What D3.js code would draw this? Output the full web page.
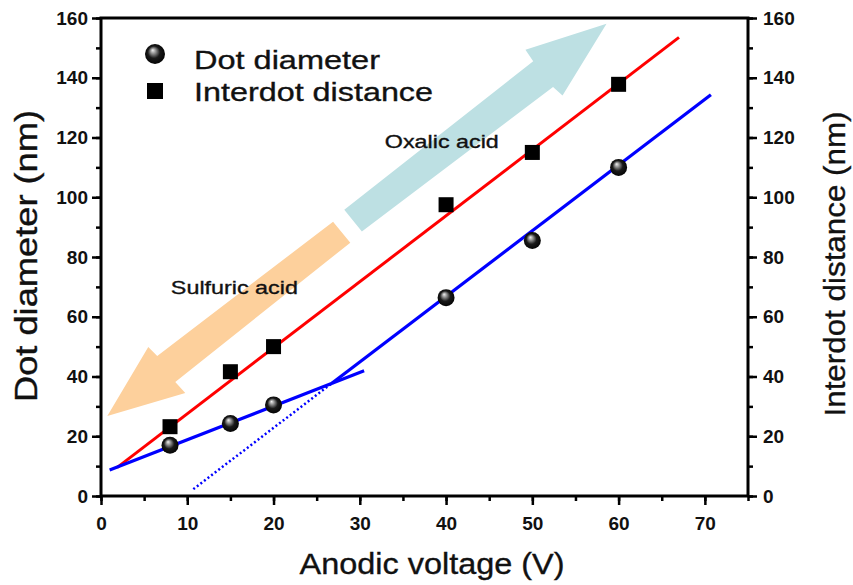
<!DOCTYPE html>
<html>
<head>
<meta charset="utf-8">
<script src="https://cdn.jsdelivr.net/npm/d3@7"></script>
<style>
  body { margin: 0; background: #fff; }
  text { font-family: "Liberation Sans", Arial, sans-serif; }
</style>
</head>
<body>
<svg id="chart"></svg>
<script>
// measured points
const voltage = [8, 15, 20, 40, 50, 60];
const dotDiameter = [17, 24.3, 30.5, 66.4, 85.5, 110];
const interdotDistance = [23.2, 41.6, 50, 97.5, 115, 137.8];

// fitted lines (voltage, nm) end points
const interdotFitV = [1.85, 67];
const interdotFitD = [9.5, 153.5];
const sulfuricFitV = [1, 30.5];
const sulfuricFitD = [8.7, 41.9];
const oxalicFitV = [26.8, 70.7];
const oxalicFitD = [37.8, 134.3];
const extrapFitV = [10.7, 26.8];
const extrapFitD = [2.3, 37.8];

// annotation arrows, outline in data units
const sulfuricArrowV = [26.9, 28.9, 8.61, 9.77, 0.73, 5.48, 6.52];
const sulfuricArrowD = [91.8, 84.8, 38.2, 34.5, 26.8, 49.9, 46.9];
const oxalicArrowV = [28.2, 50.1, 49.2, 58.6, 53.5, 52.4, 30.24];
const oxalicArrowD = [95.8, 145.5, 149.4, 158.1, 134.1, 136.9, 88.5];

const xTicks = [0, 10, 20, 30, 40, 50, 60, 70];
const yTicks = [0, 20, 40, 60, 80, 100, 120, 140, 160];

const W = 853, H = 585;
const margin = { top: 18, right: 105, bottom: 89, left: 101 };
const width = W - margin.left - margin.right;
const height = H - margin.top - margin.bottom;

const svg = d3.select('#chart').attr('width', W).attr('height', H);

const defs = svg.append('defs');
const grad = defs.append('radialGradient').attr('id', 'ball')
    .attr('cx', '0.5').attr('cy', '0.5').attr('r', '0.55')
    .attr('fx', '0.38').attr('fy', '0.3');
grad.append('stop').attr('offset', '0%').attr('stop-color', '#f2f2f2');
grad.append('stop').attr('offset', '22%').attr('stop-color', '#9a9a9a');
grad.append('stop').attr('offset', '55%').attr('stop-color', '#1a1a1a');
grad.append('stop').attr('offset', '100%').attr('stop-color', '#000');

const g = svg.append('g').attr('transform', `translate(${margin.left},${margin.top})`);

const x = d3.scaleLinear().domain([0, 75]).range([0, width]);
const y = d3.scaleLinear().domain([0, 160]).range([height, 0]);

// arrows
const arrowPath = (vs, ds) => 'M' + vs.map((v, i) => `${x(v)},${y(ds[i])}`).join('L') + 'Z';
g.append('path').attr('d', arrowPath(oxalicArrowV, oxalicArrowD)).attr('fill', '#bde0e3');
g.append('path').attr('d', arrowPath(sulfuricArrowV, sulfuricArrowD)).attr('fill', '#fdd09c');

const heavy = sel => sel.attr('fill', '#111').attr('stroke', '#111').attr('stroke-width', 0.35);

g.append('text').attr('x', x(32.9)).attr('y', y(116.5)).attr('font-size', 19)
    .attr('textLength', 114).attr('lengthAdjust', 'spacingAndGlyphs').text('Oxalic acid').call(heavy);
g.append('text').attr('x', x(8.1)).attr('y', y(67.5)).attr('font-size', 19)
    .attr('textLength', 127).attr('lengthAdjust', 'spacingAndGlyphs').text('Sulfuric acid').call(heavy);

// fit lines
const line = d3.line().x(d => x(d[0])).y(d => y(d[1]));
const fit = (vs, ds) => vs.map((v, i) => [v, ds[i]]);

g.append('path').datum(fit(interdotFitV, interdotFitD)).attr('d', line)
    .attr('stroke', '#ff0000').attr('stroke-width', 3).attr('fill', 'none');
g.append('path').datum(fit(extrapFitV, extrapFitD)).attr('d', line)
    .attr('stroke', '#0000ff').attr('stroke-width', 2.5).attr('stroke-dasharray', '2,2.5').attr('fill', 'none');
g.append('path').datum(fit(sulfuricFitV, sulfuricFitD)).attr('d', line)
    .attr('stroke', '#0000ff').attr('stroke-width', 3.2).attr('fill', 'none');
g.append('path').datum(fit(oxalicFitV, oxalicFitD)).attr('d', line)
    .attr('stroke', '#0000ff').attr('stroke-width', 3.2).attr('fill', 'none');

// markers
const sq = 15;
g.selectAll('.sq').data(voltage).join('rect')
    .attr('x', (d, i) => x(d) - sq / 2).attr('y', (d, i) => y(interdotDistance[i]) - sq / 2)
    .attr('width', sq).attr('height', sq).attr('fill', '#000');
g.selectAll('.ball').data(voltage).join('circle')
    .attr('cx', d => x(d)).attr('cy', (d, i) => y(dotDiameter[i])).attr('r', 8.5)
    .attr('fill', 'url(#ball)');

// axes
const axisStyle = sel => {
    sel.select('.domain').remove();
    sel.selectAll('line').attr('stroke', '#000').attr('stroke-width', 2.5);
    sel.selectAll('text').attr('font-size', 19).attr('font-weight', 'bold').attr('fill', '#111');
};

g.append('g').attr('transform', `translate(0,${height})`)
    .call(d3.axisBottom(x).tickValues(d3.range(0, 76, 5)).tickSize(5).tickFormat(''))
    .call(axisStyle);
g.append('g').attr('transform', `translate(0,${height})`)
    .call(d3.axisBottom(x).tickValues(xTicks).tickSize(9).tickPadding(12).tickFormat(d3.format('d')))
    .call(axisStyle);

g.append('g')
    .call(d3.axisLeft(y).tickValues(d3.range(0, 161, 10)).tickSize(5).tickFormat(''))
    .call(axisStyle);
g.append('g')
    .call(d3.axisLeft(y).tickValues(yTicks).tickSize(9).tickPadding(4).tickFormat(d3.format('d')))
    .call(axisStyle);

g.append('g').attr('transform', `translate(${width},0)`)
    .call(d3.axisRight(y).tickValues(d3.range(0, 161, 10)).tickSize(5).tickFormat(''))
    .call(axisStyle);
g.append('g').attr('transform', `translate(${width},0)`)
    .call(d3.axisRight(y).tickValues(yTicks).tickSize(9).tickPadding(6).tickFormat(d3.format('d')))
    .call(axisStyle);

// frame
g.append('rect').attr('width', width).attr('height', height)
    .attr('fill', 'none').attr('stroke', '#000').attr('stroke-width', 3);

// axis titles
svg.append('text').attr('x', 432).attr('y', 574).attr('text-anchor', 'middle')
    .attr('font-size', 30).attr('textLength', 265).attr('lengthAdjust', 'spacingAndGlyphs')
    .text('Anodic voltage (V)').call(heavy);
svg.append('text').attr('transform', 'translate(37,256) rotate(-90)').attr('text-anchor', 'middle')
    .attr('font-size', 32).attr('textLength', 292).attr('lengthAdjust', 'spacingAndGlyphs')
    .text('Dot diameter (nm)').call(heavy);
svg.append('text').attr('transform', 'translate(845,264) rotate(-90)').attr('text-anchor', 'middle')
    .attr('font-size', 30).attr('textLength', 305).attr('lengthAdjust', 'spacingAndGlyphs')
    .text('Interdot distance (nm)').call(heavy);

// legend
svg.append('circle').attr('cx', 155).attr('cy', 54).attr('r', 10).attr('fill', 'url(#ball)');
svg.append('rect').attr('x', 147).attr('y', 83).attr('width', 16).attr('height', 16).attr('fill', '#000');
svg.append('text').attr('x', 194).attr('y', 69).attr('font-size', 26)
    .attr('textLength', 186).attr('lengthAdjust', 'spacingAndGlyphs').text('Dot diameter').call(heavy);
svg.append('text').attr('x', 194).attr('y', 101).attr('font-size', 26)
    .attr('textLength', 239).attr('lengthAdjust', 'spacingAndGlyphs').text('Interdot distance').call(heavy);
</script>
</body>
</html>
